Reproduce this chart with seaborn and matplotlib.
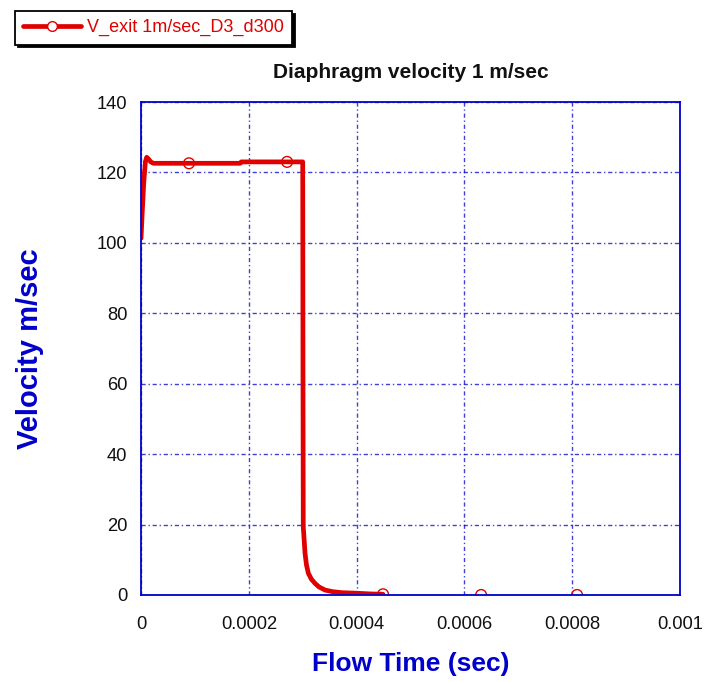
import matplotlib
matplotlib.use("Agg")
import matplotlib.pyplot as plt
from matplotlib.lines import Line2D
import seaborn as sns
import pandas as pd

# Exit velocity history (time in s, velocity in m/s)
time_s = [0.0, 2.0e-6, 5.0e-6, 8.0e-6, 1.05e-5, 1.4e-5, 1.8e-5, 2.3e-5, 5.0e-5,
          8.9e-5, 1.5e-4, 1.84e-4, 1.86e-4, 2.71e-4, 3.0e-4, 3.005e-4, 3.01e-4,
          3.043e-4, 3.07e-4, 3.104e-4, 3.16e-4, 3.228e-4, 3.3e-4, 3.414e-4,
          3.55e-4, 3.724e-4, 4.0e-4, 4.25e-4, 4.49e-4]
velocity = [101.3, 108.0, 117.0, 123.0, 124.3, 123.8, 123.0, 122.6, 122.6,
            122.6, 122.6, 122.6, 123.0, 123.0, 123.0, 60.0, 19.4,
            11.8, 8.5, 6.2, 4.5, 3.3, 2.3, 1.4,
            0.95, 0.65, 0.5, 0.3, 0.2]

# Sample markers along the series
marker_t = [8.9e-5, 2.71e-4, 4.49e-4, 6.31e-4, 8.09e-4]
marker_v = [122.6, 123.0, 0.2, 0.0, 0.0]

series_label = "V_exit 1m/sec_D3_d300"
title_text = "Diaphragm velocity 1 m/sec"
x_label = "Flow Time (sec)"
y_label = "Velocity m/sec"
x_ticks = [0, 0.0002, 0.0004, 0.0006, 0.0008, 0.001]
x_tick_labels = ["0", "0.0002", "0.0004", "0.0006", "0.0008", "0.001"]
y_ticks = [0, 20, 40, 60, 80, 100, 120, 140]

sns.set_theme(style="white")
plt.rcParams["font.family"] = ["Liberation Sans", "DejaVu Sans"]

RED = "#e00000"
BLUE = "#0000cc"

fig = plt.figure(figsize=(7.17, 6.82), dpi=100)
ax = fig.add_axes([0.1967, 0.1276, 0.7517, 0.7228])

df = pd.DataFrame({"t": time_s, "v": velocity})
sns.lineplot(data=df, x="t", y="v", ax=ax, color=RED, linewidth=3.4,
             sort=False, estimator=None, zorder=3)
mk = pd.DataFrame({"t": marker_t, "v": marker_v})
sns.scatterplot(data=mk, x="t", y="v", ax=ax, marker="o", s=60,
                facecolor="none", edgecolor=RED, linewidth=1.0, zorder=4)

ax.set_xlim(0, 0.001)
ax.set_ylim(0, 140)
ax.set_xticks(x_ticks)
ax.set_xticklabels(x_tick_labels)
ax.set_yticks(y_ticks)
ax.tick_params(axis="both", direction="in", length=5, width=1.2, color=BLUE,
               labelsize=13.2, labelcolor="#111111")
ax.tick_params(axis="x", pad=15)
ax.tick_params(axis="y", pad=10)
ax.grid(True, color=BLUE, linestyle=(0, (3, 2, 1, 2)), linewidth=1.0, alpha=0.75)
for sp in ax.spines.values():
    sp.set_color(BLUE)
    sp.set_linewidth(1.3)
    sp.set_zorder(5)

ax.set_title(title_text, fontsize=15, fontweight="bold", color="#111111", pad=17)
ax.set_xlabel(x_label, fontsize=19, fontweight="bold", color=BLUE, labelpad=14)
ax.set_ylabel(y_label, fontsize=21, fontweight="bold", color=BLUE, labelpad=38)

handle = Line2D([], [], color=RED, linewidth=3.4, marker="o", markersize=7,
                markerfacecolor="white", markeredgecolor=RED, markeredgewidth=1.0)
leg = fig.legend([handle], [series_label], loc="upper left",
                 bbox_to_anchor=(0.008, 0.997), frameon=True, fancybox=False,
                 shadow={"color": "black", "alpha": 1.0}, fontsize=13,
                 handlelength=3.2, borderpad=0.45, handletextpad=0.35)
leg.get_frame().set_edgecolor("black")
leg.get_frame().set_linewidth(1.3)
for txt in leg.get_texts():
    txt.set_color(RED)

fig.savefig("out.png", dpi=100)
